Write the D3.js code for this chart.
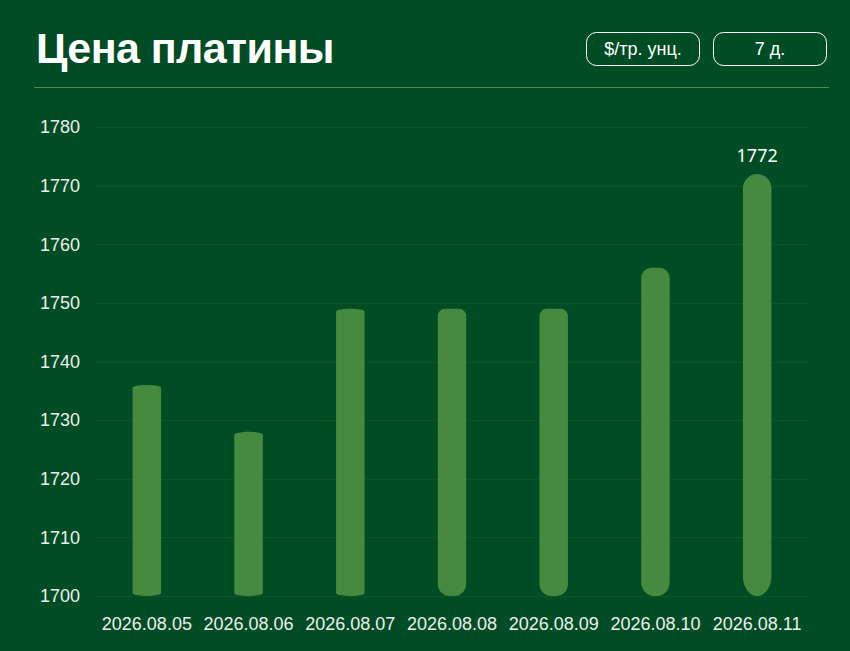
<!DOCTYPE html>
<html><head><meta charset="utf-8">
<script src="https://cdn.jsdelivr.net/npm/d3@7/dist/d3.min.js"></script>
<style>
html,body{margin:0;padding:0;background:#004d25;}
svg{display:block;}
</style></head>
<body>
<svg id="chart" width="850" height="651"></svg>
<script>
const categories = ["2026.08.05","2026.08.06","2026.08.07","2026.08.08","2026.08.09","2026.08.10","2026.08.11"];
const prices = [1736, 1728, 1749, 1749, 1749, 1756, 1772];
const yTicks = [1700, 1710, 1720, 1730, 1740, 1750, 1760, 1770, 1780];
const title = "Цена платины";
const unitLabel = "$/тр. унц.";
const periodLabel = "7 д.";

const W = 850, H = 651;
const svg = d3.select("#chart");
svg.append("rect").attr("width", W).attr("height", H).attr("fill", "#004d25");

// header
svg.append("text").attr("x", 36).attr("y", 63)
  .attr("font-family", "Liberation Sans, Arial, sans-serif").attr("font-weight", "bold")
  .attr("font-size", 43).attr("letter-spacing", -0.6).attr("fill", "#ffffff").text(title);

const buttons = [{label: unitLabel, x: 586}, {label: periodLabel, x: 713}];
buttons.forEach(b => {
  svg.append("rect").attr("x", b.x + 0.5).attr("y", 32.5).attr("width", 113).attr("height", 33)
    .attr("rx", 10).attr("fill", "none").attr("stroke", "#ffffff").attr("stroke-width", 1);
  svg.append("text").attr("x", b.x + 57).attr("y", 55).attr("text-anchor", "middle")
    .attr("font-family", "Liberation Sans, Arial, sans-serif").attr("font-size", 18)
    .attr("fill", "#ffffff").text(b.label);
});

svg.append("line").attr("x1", 34).attr("x2", 829).attr("y1", 87.5).attr("y2", 87.5)
  .attr("stroke", "#4f8f45").attr("stroke-width", 1);

// scales
const x = d3.scaleBand().domain(categories).range([96, 808]).paddingInner(0.72).paddingOuter(0.36);
const y = d3.scaleLinear().domain([1700, 1780]).range([596, 127]);

// grid
svg.append("g").selectAll("line").data(yTicks).join("line")
  .attr("x1", 96).attr("x2", 808)
  .attr("y1", d => Math.round(y(d)) + 0.5).attr("y2", d => Math.round(y(d)) + 0.5)
  .attr("stroke", "#0b5629").attr("stroke-width", 1);

// y axis
const yAxis = d3.axisLeft(y).tickValues(yTicks).tickSize(0).tickPadding(0).tickFormat(d3.format("d"));
const gy = svg.append("g").attr("transform", "translate(80,0)").call(yAxis);
gy.select(".domain").remove();
gy.selectAll("text").attr("font-family", "Liberation Sans, Arial, sans-serif")
  .attr("font-size", 18).attr("fill", "#eeeeee").attr("text-anchor", "end");

// x axis
const xAxis = d3.axisBottom(x).tickSize(0).tickPadding(0);
const gx = svg.append("g").attr("transform", "translate(0,617)").call(xAxis);
gx.select(".domain").remove();
gx.selectAll("text").attr("font-family", "Liberation Sans, Arial, sans-serif")
  .attr("font-size", 18).attr("fill", "#eeeeee").attr("dy", "0.71em");

// corner shapes per bar (style, by index)
const capTop = [[14, 3], [14, 3], [14, 3], [7, 8], [7, 8], [10, 10], [14.5, 14.5]];
const capBottom = [[14, 3], [14, 3], [14, 3], [12, 12], [12, 12], [13, 14], [14.5, 20]];

function barPath(x0, y0, w, h, t, b) {
  const [trx, try_] = t, [brx, bry] = b;
  const r1x = Math.min(trx, w / 2), r2x = Math.min(brx, w / 2);
  const y1 = y0 + h;
  return `M${x0},${y0 + try_}` +
    `A${r1x},${try_} 0 0 1 ${x0 + r1x},${y0}` +
    `L${x0 + w - r1x},${y0}` +
    `A${r1x},${try_} 0 0 1 ${x0 + w},${y0 + try_}` +
    `L${x0 + w},${y1 - bry}` +
    `A${r2x},${bry} 0 0 1 ${x0 + w - r2x},${y1}` +
    `L${x0 + r2x},${y1}` +
    `A${r2x},${bry} 0 0 1 ${x0},${y1 - bry}Z`;
}

svg.append("g").selectAll("path").data(prices).join("path")
  .attr("d", (d, i) => barPath(x(categories[i]), y(d), x.bandwidth(), y(1700) - y(d), capTop[i], capBottom[i]))
  .attr("fill", "#468a40");

// value label on the latest bar
const last = prices.length - 1;
svg.append("text")
  .attr("x", x(categories[last]) + x.bandwidth() / 2)
  .attr("y", y(prices[last]) - 12)
  .attr("text-anchor", "middle")
  .attr("font-family", "Noto Sans, Open Sans, sans-serif").attr("font-size", 18)
  .attr("fill", "#ffffff").text(prices[last]);
</script>
</body></html>
